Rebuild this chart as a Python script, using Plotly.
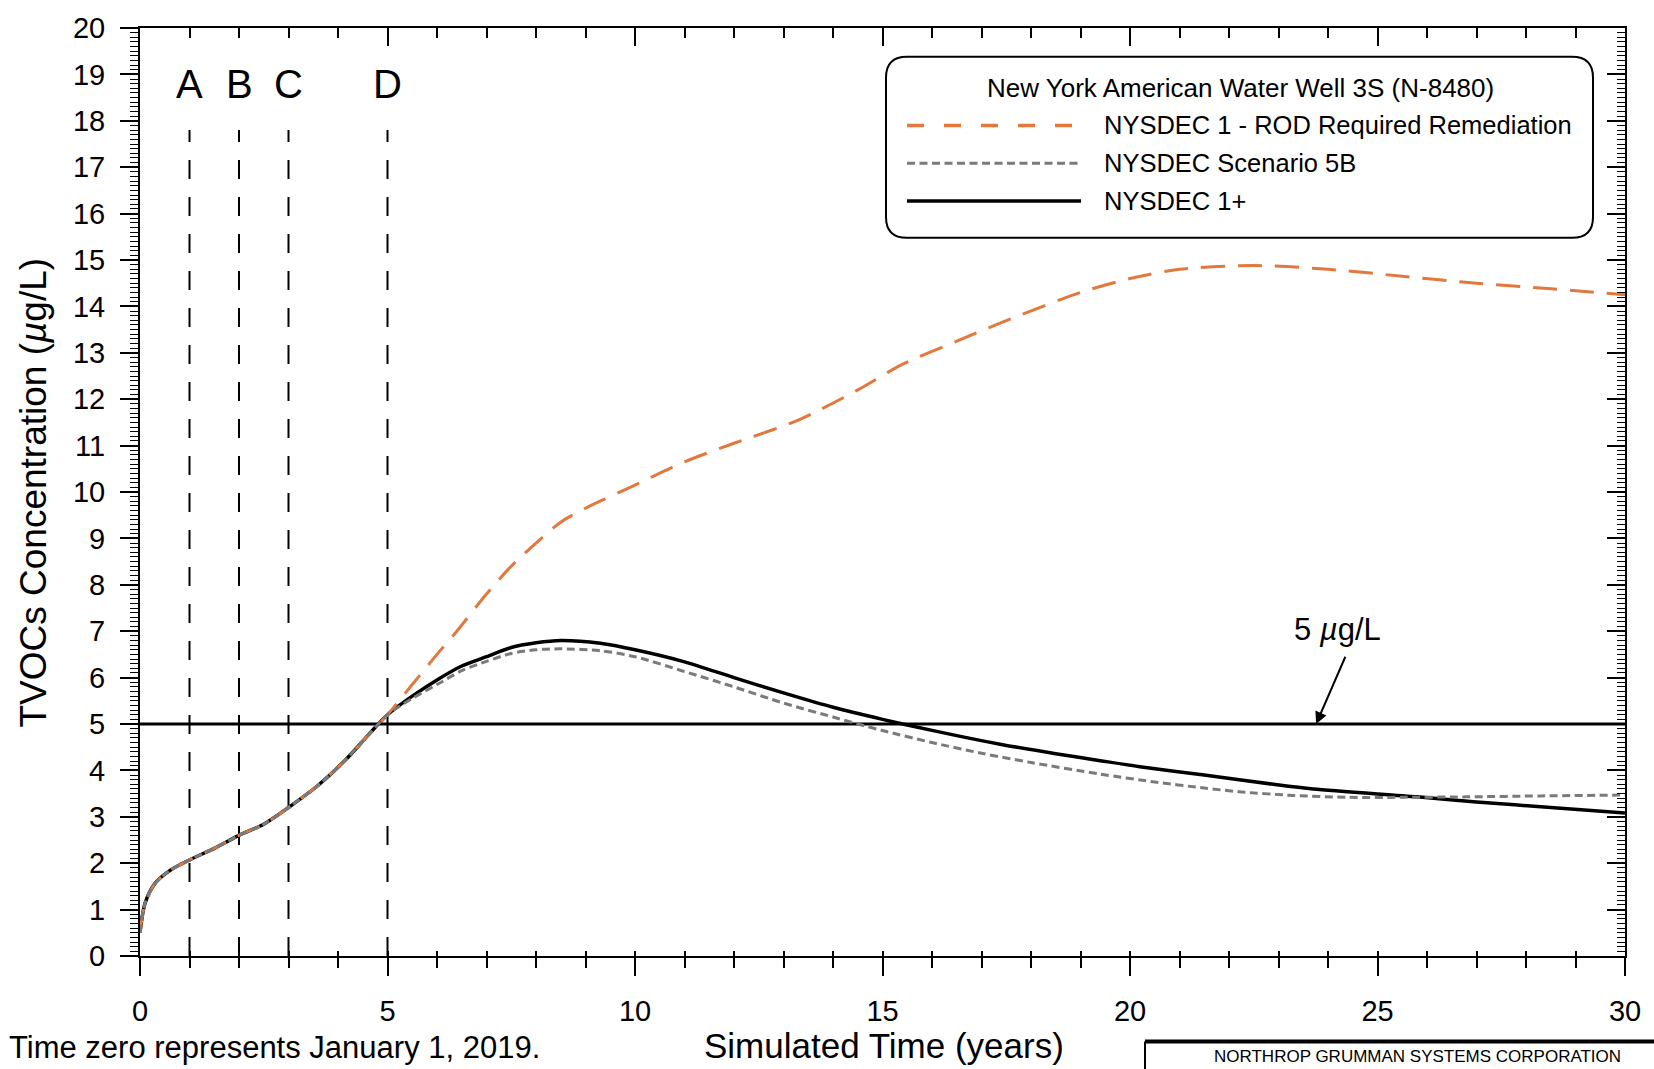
import plotly.graph_objects as go

# ---------------- data ----------------
t_rod = [0, 0.1, 0.3, 0.6, 1.0, 1.5, 2.0, 2.5, 3.0, 3.6, 4.2, 4.6, 5.0,
         5.5, 6.0, 6.4, 7.0, 7.5, 8.0, 8.5, 9.0, 10.0, 11.0, 12.0, 13.3, 14.5,
         15.4, 16.5, 17.4, 19.0, 20.0, 21.0, 22.5, 24.0, 25.5, 27.0, 28.5, 30.0]
c_rod = [0.5, 1.13, 1.56, 1.84, 2.07, 2.32, 2.6, 2.84, 3.2, 3.68, 4.28, 4.75, 5.2,
         5.85, 6.5, 7.0, 7.8, 8.4, 8.9, 9.35, 9.65, 10.15, 10.65, 11.05, 11.55, 12.2,
         12.75, 13.25, 13.65, 14.3, 14.6, 14.8, 14.88, 14.8, 14.65, 14.5, 14.38, 14.25]

t_5b = [0, 0.1, 0.3, 0.6, 1.0, 1.5, 2.0, 2.5, 3.0, 3.6, 4.2, 4.6, 5.0,
        5.5, 6.0, 6.5, 7.0, 7.5, 8.0, 8.5, 9.3, 10.0, 11.0, 12.0, 13.0, 14.0,
        14.5, 15.0, 16.0, 17.0, 18.0, 19.4, 20.5, 21.5, 22.2, 23.3, 24.4, 25.5,
        26.8, 28.3, 30.0]
c_5b = [0.5, 1.13, 1.56, 1.84, 2.07, 2.32, 2.6, 2.84, 3.2, 3.68, 4.28, 4.75, 5.2,
        5.55, 5.85, 6.15, 6.35, 6.52, 6.6, 6.62, 6.58, 6.45, 6.13, 5.8, 5.45, 5.15,
        5.0, 4.86, 4.6, 4.37, 4.17, 3.92, 3.75, 3.62, 3.54, 3.46, 3.42, 3.42,
        3.43, 3.45, 3.47]

t_1p = [0, 0.1, 0.3, 0.6, 1.0, 1.5, 2.0, 2.5, 3.0, 3.6, 4.2, 4.6, 5.0,
        5.5, 6.0, 6.5, 7.0, 7.5, 8.0, 8.5, 9.3, 10.0, 11.0, 12.0, 13.0, 14.0,
        15.0, 15.5, 16.5, 17.4, 18.5, 19.4, 20.2, 21.5, 22.9, 23.7, 25.8, 27.0, 28.5, 30.0]
c_1p = [0.5, 1.13, 1.56, 1.84, 2.07, 2.32, 2.6, 2.84, 3.2, 3.68, 4.28, 4.75, 5.2,
        5.6, 5.95, 6.25, 6.45, 6.65, 6.75, 6.8, 6.74, 6.6, 6.34, 6.0, 5.67, 5.36,
        5.1, 4.98, 4.75, 4.56, 4.36, 4.21, 4.08, 3.9, 3.7, 3.6, 3.43, 3.32, 3.2, 3.08]

event_x = [1, 2, 3, 5]
event_labels = ["A", "B", "C", "D"]
event_top = 17.8
label_y = 18.8

threshold = 5
threshold_label = "5 <i>µ</i>g/L"
arrow_x = 23.76

series_names = ["NYSDEC 1 - ROD Required Remediation", "NYSDEC Scenario 5B", "NYSDEC 1+"]
legend_title = "New York American Water Well 3S (N-8480)"

# ---------------- styling ----------------
W, H = 1654, 1069
L, R, T, B = 140, 1625, 23, 956
FONT = "Liberation Sans, Arial, sans-serif"
ORANGE = "#E2783C"
GRAY = "#7a7a7a"
ROD_DASH = "24px,13px"
ROD_DASH_LEG = "17px,20px"
B5_DASH = "8px,4.5px"
EV_DASH = "19px,18px"


def pp(px, py):
    return (px - L) / (R - L), (B - py) / (B - T)


fig = go.Figure()

for ex in event_x:
    fig.add_trace(go.Scatter(x=[ex, ex], y=[0, event_top], mode="lines",
                             line=dict(color="black", width=2, dash=EV_DASH),
                             showlegend=False, hoverinfo="skip"))
fig.add_trace(go.Scatter(x=[0, 30], y=[threshold, threshold], mode="lines",
                         line=dict(color="black", width=3), showlegend=False,
                         hoverinfo="skip"))

fig.add_trace(go.Scatter(x=t_1p, y=c_1p, mode="lines", name=series_names[2],
                         line=dict(color="black", width=3.5, shape="spline", smoothing=0.8)))
fig.add_trace(go.Scatter(x=t_rod, y=c_rod, mode="lines", name=series_names[0],
                         line=dict(color=ORANGE, width=3, dash=ROD_DASH, shape="spline", smoothing=0.8)))
fig.add_trace(go.Scatter(x=t_5b, y=c_5b, mode="lines", name=series_names[1],
                         line=dict(color=GRAY, width=3, dash=B5_DASH, shape="spline", smoothing=0.8)))

# invisible traces to anchor overlay axes
fig.add_trace(go.Scatter(x=t_1p, y=c_1p, xaxis="x2", yaxis="y2", mode="lines",
                         line=dict(width=0), opacity=0, showlegend=False, hoverinfo="skip"))
fig.add_trace(go.Scatter(x=t_1p, y=c_1p, xaxis="x3", yaxis="y", mode="lines",
                         line=dict(width=0), opacity=0, showlegend=False, hoverinfo="skip"))

tickfont = dict(family=FONT, size=29, color="black")

fig.update_layout(
    width=W, height=H,
    margin=dict(l=L, r=W - R, t=20, b=H - B, pad=0),
    paper_bgcolor="white", plot_bgcolor="white",
    showlegend=False,
    font=dict(family=FONT, color="black"),
    xaxis=dict(range=[0, 30], tickmode="linear", tick0=0, dtick=5,
               ticks="outside", ticklen=18, tickwidth=1.5, tickcolor="black",
               showline=True, linewidth=2, linecolor="black", showgrid=False,
               zeroline=False, tickfont=tickfont, ticklabelstandoff=10,
               minor=dict(dtick=1, tick0=0, ticks="outside", ticklen=10, tickwidth=1.5,
                          tickcolor="black", showgrid=False)),
    xaxis2=dict(range=[0, 30], overlaying="x", side="top", anchor="y", matches="x",
                tickmode="linear", tick0=0, dtick=5, ticks="inside", ticklen=18,
                tickwidth=1.5, tickcolor="black", showticklabels=False,
                showline=True, linewidth=2, linecolor="black", showgrid=False, zeroline=False,
                minor=dict(dtick=1, tick0=0, ticks="inside", ticklen=10, tickwidth=1.5,
                           tickcolor="black", showgrid=False)),
    xaxis3=dict(range=[0, 30], overlaying="x", side="bottom", anchor="y", matches="x",
                tickmode="linear", tick0=0, dtick=1, ticks="inside", ticklen=5,
                tickwidth=1.5, tickcolor="black", showticklabels=False,
                showline=False, showgrid=False, zeroline=False),
    yaxis=dict(range=[0, 20], tickmode="linear", tick0=0, dtick=1,
               ticks="outside", ticklen=18, tickwidth=1.5, tickcolor="black",
               showline=True, linewidth=2, linecolor="black", showgrid=False,
               zeroline=False, tickfont=tickfont, ticklabelstandoff=9,
               minor=dict(dtick=0.1, tick0=0, ticks="outside", ticklen=8, tickwidth=1.2,
                          tickcolor="black", showgrid=False)),
    yaxis2=dict(range=[0, 20], overlaying="y", side="right", anchor="x", matches="y",
                tickmode="linear", tick0=0, dtick=1, ticks="inside", ticklen=18,
                tickwidth=1.5, tickcolor="black", showticklabels=False,
                showline=True, linewidth=2, linecolor="black", showgrid=False, zeroline=False,
                minor=dict(dtick=0.1, tick0=0, ticks="inside", ticklen=8, tickwidth=1.2,
                           tickcolor="black", showgrid=False)),
)

ann = []
for ex, lab in zip(event_x, event_labels):
    ann.append(dict(x=ex, y=label_y, xref="x", yref="y", text=lab, showarrow=False,
                    font=dict(family=FONT, size=40, color="black"),
                    xanchor="center", yanchor="middle"))

# 5 ug/L arrow + text
ax0, ay0 = 1346, 654
hx, hy = (arrow_x * (R - L) / 30 + L), B - threshold * (B - T) / 20
ann.append(dict(x=arrow_x, y=threshold, xref="x", yref="y", text="", showarrow=True,
                ax=ax0 - hx, ay=ay0 - hy, arrowhead=2, arrowsize=1.2, arrowwidth=2,
                arrowcolor="black"))
tx, ty = pp(1337, 628)
ann.append(dict(x=tx, y=ty, xref="paper", yref="paper", text=threshold_label, showarrow=False,
                font=dict(family=FONT, size=31, color="black"), xanchor="center", yanchor="middle"))

# axis titles and notes
tx, ty = pp(884, 1046)
ann.append(dict(x=tx, y=ty, xref="paper", yref="paper", text="Simulated Time (years)",
                showarrow=False, font=dict(family=FONT, size=35, color="black"),
                xanchor="center", yanchor="middle", borderpad=0))
tx, ty = pp(33, 490)
ann.append(dict(x=tx, y=ty, xref="paper", yref="paper", text="TVOCs Concentration (<i>µ</i>g/L)",
                showarrow=False, textangle=-90, font=dict(family=FONT, size=37, color="black"),
                xanchor="center", yanchor="middle"))
tx, ty = pp(8, 1048)
ann.append(dict(x=tx, y=ty, xref="paper", yref="paper", text="Time zero represents January 1, 2019.",
                showarrow=False, font=dict(family=FONT, size=31, color="black"),
                xanchor="left", yanchor="middle", borderpad=0))
tx, ty = pp(1213, 1057)
ann.append(dict(x=tx, y=ty, xref="paper", yref="paper", text="NORTHROP GRUMMAN SYSTEMS CORPORATION",
                showarrow=False, font=dict(family=FONT, size=17, color="black"),
                xanchor="left", yanchor="middle", borderpad=0))

# legend
tx, ty = pp(1240, 83)
ann.append(dict(x=tx, y=ty, xref="paper", yref="paper", text=legend_title, showarrow=False,
                font=dict(family=FONT, size=26, color="black"), xanchor="center", yanchor="middle"))
leg_rows = [121, 159, 197]
leg_styles = [dict(color=ORANGE, width=3.5, dash=ROD_DASH_LEG),
              dict(color=GRAY, width=3, dash=B5_DASH),
              dict(color="black", width=3.5)]
shapes = []
for name, row, st in zip(series_names, leg_rows, leg_styles):
    x0, y0 = pp(907, row)
    x1, _ = pp(1081, row)
    shapes.append(dict(type="line", xref="paper", yref="paper", x0=x0, y0=y0, x1=x1, y1=y0, line=st))
    tx, ty = pp(1102, row)
    ann.append(dict(x=tx, y=ty, xref="paper", yref="paper", text=name, showarrow=False,
                    font=dict(family=FONT, size=25.5, color="black"), xanchor="left", yanchor="middle"))

bx0, by0, bx1, by1, r = 886, 52, 1593, 234, 21


def P(px, py):
    a, b = pp(px, py)
    return f"{a:.5f},{b:.5f}"


path = (f"M {P(bx0 + r, by0)} L {P(bx1 - r, by0)} Q {P(bx1, by0)} {P(bx1, by0 + r)} "
        f"L {P(bx1, by1 - r)} Q {P(bx1, by1)} {P(bx1 - r, by1)} "
        f"L {P(bx0 + r, by1)} Q {P(bx0, by1)} {P(bx0, by1 - r)} "
        f"L {P(bx0, by0 + r)} Q {P(bx0, by0)} {P(bx0 + r, by0)} Z")
shapes.insert(0, dict(type="path", xref="paper", yref="paper", path=path,
                      line=dict(color="black", width=2), fillcolor="white", layer="above"))

# title-block box (bottom right)
x0, y0 = pp(1145, 1042)
x1, _ = pp(1700, 1042)
shapes.append(dict(type="line", xref="paper", yref="paper", x0=x0, y0=y0, x1=x1, y1=y0,
                   line=dict(color="black", width=4)))
_, y2 = pp(1145, 1080)
shapes.append(dict(type="line", xref="paper", yref="paper", x0=x0, y0=y0, x1=x0, y1=y2,
                   line=dict(color="black", width=2)))

fig.update_layout(annotations=ann, shapes=shapes)

fig.write_html("out.html", config={"displayModeBar": False},
               post_script="document.body.style.margin='0';")
